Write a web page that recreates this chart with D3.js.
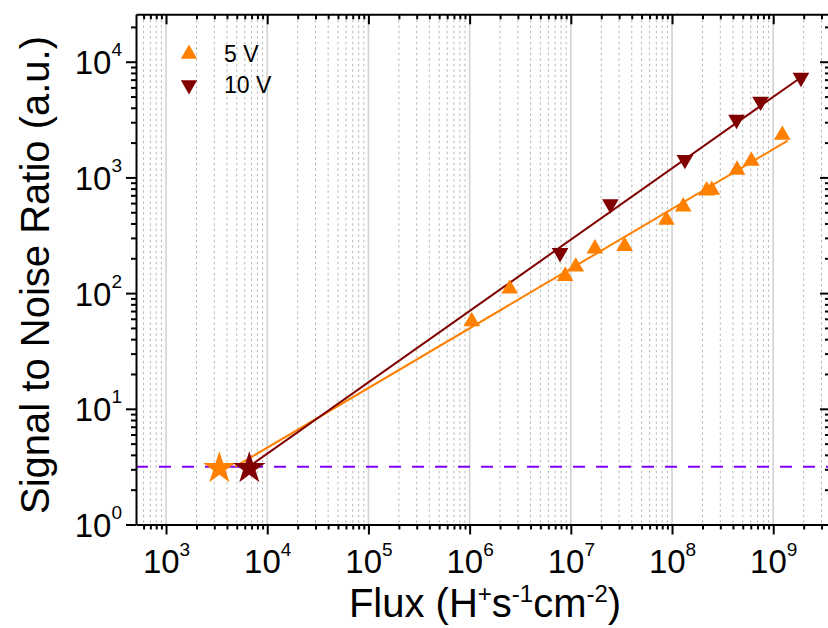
<!DOCTYPE html>
<html><head><meta charset="utf-8">
<script src="https://cdn.jsdelivr.net/npm/d3@7"></script>
<style>body{margin:0;background:#fff}svg{display:block}</style>
</head><body>
<svg id="chart" width="828" height="628"></svg>
<script>
// ---- data ----
const flux5V = [1.05e6, 2.49e6, 8.79e6, 1.12e7, 1.73e7, 3.40e7, 8.81e7, 1.29e8, 2.20e8, 2.47e8, 4.39e8, 6.08e8, 1.23e9];
const snr5V  = [56.8, 109, 140, 169, 242, 255, 428, 558, 769, 778, 1163, 1386, 2324];
const flux10V = [7.83e6, 2.46e7, 1.34e8, 4.34e8, 7.50e8, 1.88e9];
const snr10V  = [223, 589, 1422, 3164, 4530, 7300];
const fitFlux5V = [4810, 1.39e9];
const fitSNR5V  = [3.16, 2077];
const fitFlux10V = [6580, 1.92e9];
const fitSNR10V  = [3.16, 7420];
const limitFlux = [3365, 6650];   // stars (5 V, 10 V)
const limitSNR = 3.16;            // detection threshold
const seriesNames = ["5 V", "10 V"];
const seriesColors = ["#ff8000", "#800000"];
const xTickExps = [3, 4, 5, 6, 7, 8, 9];
const yTickExps = [0, 1, 2, 3, 4];
const xDomain = [505, 3.64e9];
const yDomain = [1, 25700];

// ---- layout ----
const L = 136, R = 830, T = 14.3, B = 524.5;
const FONT = "'Liberation Sans', Arial, sans-serif";
const svg = d3.select("#chart");
const x = d3.scaleLog().domain(xDomain).range([L, R]);
const y = d3.scaleLog().domain(yDomain).range([B, T]);

function minorTicks(dom) {
  const out = [];
  const lo = Math.floor(Math.log10(dom[0])), hi = Math.ceil(Math.log10(dom[1]));
  for (let e = lo; e <= hi; e++) for (let k = 2; k <= 9; k++) {
    const v = k * Math.pow(10, e);
    if (v >= dom[0] && v <= dom[1]) out.push(v);
  }
  return out;
}
const xMajor = xTickExps.map(e => Math.pow(10, e));
const yMajor = yTickExps.map(e => Math.pow(10, e));
const xMinor = minorTicks(xDomain);
const yMinor = minorTicks(yDomain);

// ---- grid (vertical only) ----
const grid = svg.append("g");
grid.selectAll("line.minor").data(xMinor).join("line")
  .attr("x1", d => x(d)).attr("x2", d => x(d)).attr("y1", T).attr("y2", B)
  .attr("stroke", "#b8b8b8").attr("stroke-width", 1).attr("stroke-dasharray", "2.5,3");
grid.selectAll("line.major").data(xMajor).join("line")
  .attr("x1", d => x(d)).attr("x2", d => x(d)).attr("y1", T).attr("y2", B)
  .attr("stroke", "#d2d2d2").attr("stroke-width", 1.6);

// ---- threshold line ----
svg.append("line")
  .attr("x1", L).attr("x2", R).attr("y1", y(limitSNR)).attr("y2", y(limitSNR))
  .attr("stroke", "#8000ff").attr("stroke-width", 2).attr("stroke-dasharray", "12,11");

// ---- fit lines ----
const line = d3.line().x(d => x(d[0])).y(d => y(d[1]));
[[fitFlux5V, fitSNR5V], [fitFlux10V, fitSNR10V]].forEach((f, i) => {
  svg.append("path").datum(f[0].map((v, j) => [v, f[1][j]]))
    .attr("d", line).attr("fill", "none")
    .attr("stroke", seriesColors[i]).attr("stroke-width", 2);
});

// ---- markers ----
const tri = d3.symbol().type(d3.symbolTriangle).size(120);
svg.append("g").selectAll("path").data(flux5V.map((v, i) => [v, snr5V[i]])).join("path")
  .attr("d", tri).attr("fill", seriesColors[0])
  .attr("transform", d => `translate(${x(d[0])},${y(d[1])})`);
svg.append("g").selectAll("path").data(flux10V.map((v, i) => [v, snr10V[i]])).join("path")
  .attr("d", tri).attr("fill", seriesColors[1])
  .attr("transform", d => `translate(${x(d[0])},${y(d[1])}) rotate(180)`);

// ---- stars ----
const star = d3.symbol().type(d3.symbolStar).size(330);
svg.append("g").selectAll("path").data(limitFlux).join("path")
  .attr("d", star).attr("fill", (d, i) => seriesColors[i])
  .attr("transform", d => `translate(${x(d)},${y(limitSNR) + 1.6})`);

// ---- axes ----
function styleAxis(g) {
  g.selectAll("path.domain").attr("stroke", "#000").attr("stroke-width", 2);
  g.selectAll(".tick line").attr("stroke", "#000").attr("stroke-width", 2);
}
function supLabel(g, baseY, xOff, anchor, dySup) {
  g.selectAll(".tick text").each(function (d) {
    const t = d3.select(this);
    t.text(null).attr("dy", null).attr("y", baseY).attr("x", xOff)
      .attr("font-family", FONT).attr("font-size", 33).attr("fill", "#000")
      .attr("text-anchor", anchor);
    t.append("tspan").text("10");
    t.append("tspan").attr("dy", dySup).attr("font-size", 19).text(Math.round(Math.log10(d)));
  });
}
// bottom
const gb = svg.append("g").attr("transform", `translate(0,${B})`)
  .call(d3.axisBottom(x).tickValues(xMajor).tickSize(10).tickSizeOuter(0).tickPadding(3));
styleAxis(gb); supLabel(gb, 48.5, 0, "middle", -17);
const gbm = svg.append("g").attr("transform", `translate(0,${B})`)
  .call(d3.axisBottom(x).tickValues(xMinor).tickSize(5).tickSizeOuter(0).tickFormat(""));
gbm.select(".domain").remove(); styleAxis(gbm);
// top
const gt = svg.append("g").attr("transform", `translate(0,${T})`)
  .call(d3.axisTop(x).tickValues(xMajor).tickSize(-10).tickSizeOuter(0).tickFormat(""));
styleAxis(gt);
const gtm = svg.append("g").attr("transform", `translate(0,${T})`)
  .call(d3.axisTop(x).tickValues(xMinor).tickSize(-5).tickSizeOuter(0).tickFormat(""));
gtm.select(".domain").remove(); styleAxis(gtm);
// left
const gl = svg.append("g").attr("transform", `translate(${L},0)`)
  .call(d3.axisLeft(y).tickValues(yMajor).tickSize(10).tickSizeOuter(0));
styleAxis(gl); supLabel(gl, 12, -14, "end", -18);
const glm = svg.append("g").attr("transform", `translate(${L},0)`)
  .call(d3.axisLeft(y).tickValues(yMinor).tickSize(5).tickSizeOuter(0).tickFormat(""));
glm.select(".domain").remove(); styleAxis(glm);
// right
const gr = svg.append("g").attr("transform", `translate(${R},0)`)
  .call(d3.axisRight(y).tickValues(yMajor).tickSize(-10).tickSizeOuter(0).tickFormat(""));
styleAxis(gr);
const grm = svg.append("g").attr("transform", `translate(${R},0)`)
  .call(d3.axisRight(y).tickValues(yMinor).tickSize(-5).tickSizeOuter(0).tickFormat(""));
grm.select(".domain").remove(); styleAxis(grm);

// ---- axis titles ----
const xt = svg.append("text").attr("x", 485).attr("y", 617)
  .attr("text-anchor", "middle").attr("font-family", FONT).attr("font-size", 40).attr("fill", "#000");
xt.append("tspan").text("Flux (H");
xt.append("tspan").attr("dy", -15).attr("font-size", 24).text("+");
xt.append("tspan").attr("dy", 15).text("s");
xt.append("tspan").attr("dy", -15).attr("font-size", 24).text("-1");
xt.append("tspan").attr("dy", 15).text("cm");
xt.append("tspan").attr("dy", -15).attr("font-size", 24).text("-2");
xt.append("tspan").attr("dy", 15).text(")");

svg.append("text").attr("transform", "translate(49,275) rotate(-90)")
  .attr("text-anchor", "middle").attr("font-family", FONT).attr("font-size", 40).attr("fill", "#000")
  .text("Signal to Noise Ratio (a.u.)");

// ---- legend ----
const leg = svg.append("g");
const legY = [54, 85];
seriesNames.forEach((name, i) => {
  leg.append("path").attr("d", d3.symbol().type(d3.symbolTriangle).size(115))
    .attr("fill", seriesColors[i])
    .attr("transform", `translate(189,${legY[i]})` + (i === 1 ? " rotate(180)" : ""));
  leg.append("text").attr("x", 224).attr("y", legY[i] + 8)
    .attr("font-family", FONT).attr("font-size", 23).attr("fill", "#000").text(name);
});
</script>
</body></html>
